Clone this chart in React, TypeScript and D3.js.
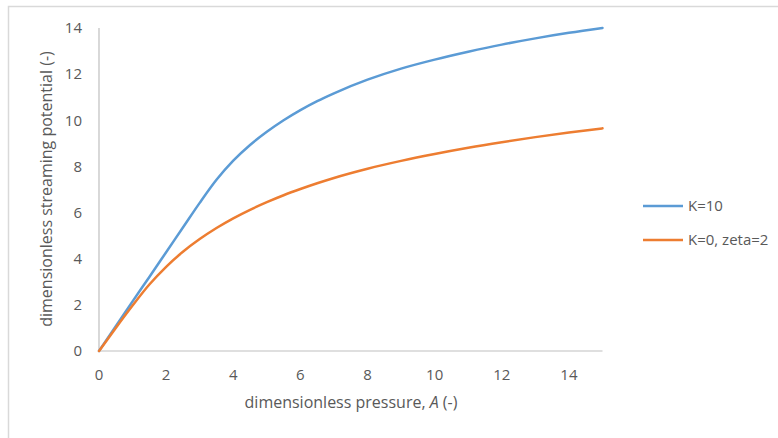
import React from "react";
import * as d3 from "d3";

const pressureA = [0, 0.5, 1, 1.5, 2, 2.5, 3, 3.5, 4, 4.5, 5, 5.5, 6, 6.5, 7, 8, 9, 10, 11, 12, 13, 14, 15];
const seriesK10 = [0, 1.07, 2.15, 3.21, 4.28, 5.35, 6.42, 7.42, 8.25, 8.93, 9.5, 10.0, 10.44, 10.83, 11.17, 11.76, 12.24, 12.63, 12.97, 13.28, 13.55, 13.79, 14.0];
const seriesK0 = [0, 1.0, 1.97, 2.88, 3.65, 4.3, 4.85, 5.33, 5.75, 6.12, 6.45, 6.75, 7.02, 7.27, 7.5, 7.9, 8.24, 8.54, 8.81, 9.05, 9.27, 9.47, 9.65];
const xTicks = [0, 2, 4, 6, 8, 10, 12, 14];
const yTicks = [0, 2, 4, 6, 8, 10, 12, 14];
const seriesNames = ["K=10", "K=0, zeta=2"];
const seriesColors = ["#5B9BD5", "#ED7D31"];

const FONT = "'Open Sans', Lato, sans-serif";
const TEXT = "#595959";

export default function App() {
  const x = d3.scaleLinear().domain([0, 15]).range([99, 602.5]);
  const y = d3.scaleLinear().domain([0, 14]).range([351, 28]);
  const line = d3
    .line<number>()
    .x((_, i) => x(pressureA[i]))
    .y((v) => y(v))
    .curve(d3.curveMonotoneX);
  const series = [seriesK10, seriesK0];

  return (
    <svg
      width={778}
      height={438}
      style={{ position: "absolute", left: 0, top: 0, background: "#fff" }}
      fontFamily={FONT}
    >
      <rect x={0} y={0} width={778} height={438} fill="#fff" />
      <rect x={8.5} y={6.5} width={800} height={500} fill="none" stroke="#D9D9D9" strokeWidth={1.5} />
      <line x1={x(0)} x2={x(0)} y1={y(14)} y2={y(0)} stroke="#BFBFBF" strokeWidth={1.2} />
      <line x1={x(0)} x2={x(15)} y1={y(0)} y2={y(0)} stroke="#BFBFBF" strokeWidth={1.2} />
      {yTicks.map((t) => (
        <text key={"y" + t} x={82} y={y(t)} dy="0.35em" textAnchor="end" fontSize={15} fill={TEXT}>
          {t}
        </text>
      ))}
      {xTicks.map((t) => (
        <text key={"x" + t} x={x(t)} y={375} dy="0.35em" textAnchor="middle" fontSize={15} fill={TEXT}>
          {t}
        </text>
      ))}
      <text x={351} y={408} textAnchor="middle" fontSize={16} fill={TEXT}>
        dimensionless pressure, <tspan fontStyle="italic">A</tspan> (-)
      </text>
      <text
        transform={`translate(52,${189}) rotate(-90)`}
        textAnchor="middle"
        fontSize={16}
        fill={TEXT}
      >
        dimensionless streaming potential (-)
      </text>
      {series.map((s, i) => (
        <path key={i} d={line(s) || ""} fill="none" stroke={seriesColors[i]} strokeWidth={2.5} strokeLinecap="round" />
      ))}
      {seriesNames.map((n, i) => (
        <g key={n} transform={`translate(0,${206 + i * 34})`}>
          <line x1={643} x2={683} y1={0} y2={0} stroke={seriesColors[i]} strokeWidth={2.5} />
          <text x={688} y={0} dy="0.35em" fontSize={15} fill={TEXT}>
            {n}
          </text>
        </g>
      ))}
    </svg>
  );
}
